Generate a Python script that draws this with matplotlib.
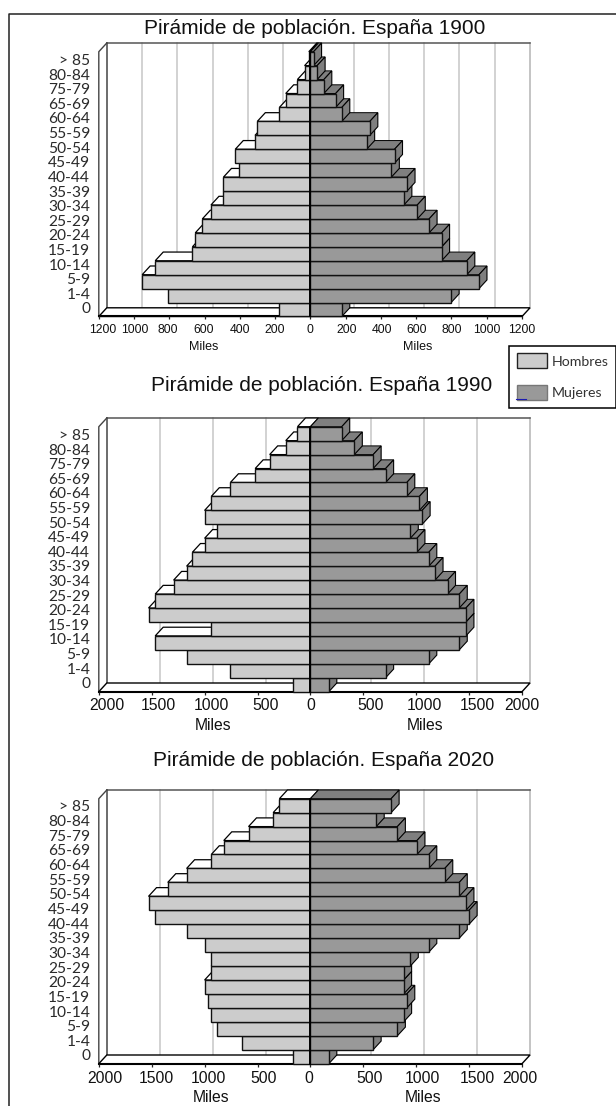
import numpy as np
import matplotlib
matplotlib.use("Agg")
import matplotlib.pyplot as plt
from matplotlib.patches import Polygon, Patch
from matplotlib.lines import Line2D

W, H = 616, 1106

age_labels = ["0", "1-4", "5-9", "10-14", "15-19", "20-24", "25-29", "30-34", "35-39",
              "40-44", "45-49", "50-54", "55-59", "60-64", "65-69", "75-79", "80-84", "> 85"]

men_1900 = [176, 809, 954, 880, 669, 653, 613, 564, 493, 493, 406, 426, 314, 301, 176, 140, 74, 33, 9]
women_1900 = [178, 798, 956, 887, 744, 744, 673, 606, 530, 548, 459, 477, 319, 337, 178, 143, 76, 38, 18]
men_1990 = [167, 756, 1167, 1467, 937, 1530, 1467, 1293, 1170, 1115, 1000, 881, 1000, 937, 756, 522, 385, 233, 122]
women_1990 = [174, 711, 1119, 1407, 1470, 1470, 1407, 1296, 1178, 1119, 1007, 944, 1056, 1030, 911, 711, 593, 415, 296]
men_2020 = [167, 648, 881, 937, 970, 1000, 937, 937, 1000, 1170, 1467, 1530, 1348, 1170, 937, 819, 585, 352, 293]
women_2020 = [174, 593, 822, 881, 911, 881, 881, 944, 1119, 1407, 1500, 1470, 1407, 1270, 1119, 1007, 822, 622, 763]

ticks_small = [1200, 1000, 800, 600, 400, 200, 0, 200, 400, 600, 800, 1000, 1200]
ticks_large = [2000, 1500, 1000, 500, 0, 500, 1000, 1500, 2000]

MALE, FEMALE, SHADE = "#cccccc", "#999999", "#7f7f7f"
DX, DY = 8.0, 8.7

panels = [
    dict(title="Pirámide de población. España 1900", men=men_1900, women=women_1900, ticks=ticks_small,
         limit=1200, floor=316.5, top=51.7, title_xy=(315, 29), miles=(204, 418, 347.5),
         lab0=308, lab1=59.5, tick_font=("Liberation Sans Narrow", 8.8), miles_size=9.0,
         shift=[3.5, 1, -2, -1, 0, 0, 0, 1, 1, 0, 0, 0, 0], tick_pad=5.5),
    dict(title="Pirámide de población. España 1990", men=men_1990, women=women_1990, ticks=ticks_large,
         limit=2000, floor=691.7, top=426.7, title_xy=(322, 385.7), miles=(213.5, 425.5, 725),
         lab0=682.7, lab1=434.5, tick_font=("Liberation Sans", 11.3), miles_size=11.3,
         shift=[8.5, 6.5, 6.5, 8, 0, 7.5, 8, 8, 0], tick_pad=4.5),
    dict(title="Pirámide de población. España 2020", men=men_2020, women=women_2020, ticks=ticks_large,
         limit=2000, floor=1063.7, top=798.7, title_xy=(324, 760.7), miles=(211, 423, 1098),
         lab0=1055, lab1=806, tick_font=("Liberation Sans", 11.3), miles_size=11.3,
         shift=[6.5, 4.5, 4, 6.5, -2, 6, 6, 8.5, -2], tick_pad=5),
]

LEFT, RIGHT = 98.8, 522.0
fig = plt.figure(figsize=(W / 100, H / 100), dpi=100, facecolor="white")


def fx(x):
    return x / W


def fy(y):
    return 1 - y / H


for p in panels:
    n = len(p["men"])
    L = p["limit"]
    ax = fig.add_axes([fx(LEFT), fy(p["floor"]), (RIGHT - LEFT) / W, (p["floor"] - p["top"]) / H])
    ax.set_xlim(-L, L)
    ax.set_ylim(0, n)
    ax.patch.set_visible(False)
    for s in ax.spines.values():
        s.set_visible(False)
    mpp = 2 * L / (RIGHT - LEFT)
    bar_px = (p["floor"] - p["top"]) / n
    dx, dy = DX * mpp, DY / bar_px

    # Box: back wall, side wall, floor
    ax.add_patch(Polygon([(-L + dx, dy), (L + dx, dy), (L + dx, n + dy), (-L + dx, n + dy)],
                         closed=True, fc="white", ec="none", zorder=0.5, clip_on=False))
    half = len(p["ticks"]) // 2
    tick_arr = np.array(p["ticks"]) * np.array([-1] * half + [0] + [1] * half)
    for t in tick_arr:
        if abs(t) != L and t != 0:
            ax.plot([t + dx, t + dx], [dy, n + dy], color="#c6c6c6", lw=1.1, zorder=1, clip_on=False)
    ax.plot([L + dx, L + dx], [dy, n + dy], color="#b4b4b4", lw=1.1, zorder=1, clip_on=False)
    ax.plot([-L + dx, L + dx], [n + dy, n + dy], color="#555555", lw=1.1, zorder=1.1, clip_on=False)
    ax.plot([-L + dx, -L + dx], [dy, n + dy], color="#444444", lw=1.1, zorder=1.1, clip_on=False)
    ax.plot([-L, -L, -L + dx], [0, n, n + dy], color="#444444", lw=1.0, zorder=1.1, clip_on=False)
    ax.add_patch(Polygon([(-L, 0), (L, 0), (L + dx, dy), (-L + dx, dy)], closed=True, fc="white",
                         ec="black", lw=1.0, zorder=1.2, clip_on=False))
    ax.plot([-L, L], [0, 0], color="black", lw=1.5, zorder=1.3, clip_on=False)

    # Bars, bottom to top so that each bar hides the faces of the one below
    for i in range(n):
        m, w = p["men"][i], p["women"][i]
        z = 2 + i * 0.01
        ax.add_patch(Polygon([(0, i + 1), (-m, i + 1), (-m + dx, i + 1 + dy), (dx, i + 1 + dy)], closed=True,
                             fc="white", ec="black", lw=0.9, zorder=z, clip_on=False))
        ax.add_patch(Polygon([(0, i + 1), (w, i + 1), (w + dx, i + 1 + dy), (dx, i + 1 + dy)], closed=True,
                             fc=SHADE, ec="black", lw=0.7, zorder=z, clip_on=False))
        ax.add_patch(Polygon([(w, i), (w + dx, i + dy), (w + dx, i + 1 + dy), (w, i + 1)], closed=True,
                             fc=SHADE, ec="black", lw=0.8, zorder=z, clip_on=False))
        ax.barh(i + 0.5, -m, height=1, color=MALE, edgecolor="#111111", lw=1.0, zorder=z + 0.001, clip_on=False)
        ax.barh(i + 0.5, w, height=1, color=FEMALE, edgecolor="#111111", lw=1.0, zorder=z + 0.001, clip_on=False)
    ax.plot([0, 0], [0, n], color="black", lw=1.4, zorder=3, clip_on=False)

    # Axis ticks and labels
    ax.xaxis.remove_overlapping_locs = False
    ax.set_xticks(tick_arr, labels=[])
    shift = np.array(p["shift"]) * mpp
    ax.set_xticks(tick_arr + shift, labels=[str(t) for t in p["ticks"]], minor=True)
    ax.tick_params(axis="x", which="major", length=2.5, width=0.9, color="#222222")
    fam, size = p["tick_font"]
    ax.tick_params(axis="x", which="minor", length=0, pad=p["tick_pad"], labelsize=size, labelcolor="#111111")
    for lab in ax.get_xticklabels(minor=True):
        lab.set_family([fam, "Liberation Sans"])

    lab_y = (p["floor"] - np.linspace(p["lab0"], p["lab1"], len(age_labels))) / bar_px
    ax.set_yticks(lab_y, labels=age_labels)
    ax.tick_params(axis="y", length=0, pad=6.2, labelsize=11.2, labelcolor="#2a2a2a")
    for lab in ax.get_yticklabels():
        lab.set_family("Lato")

    fig.text(fx(p["title_xy"][0]), fy(p["title_xy"][1]), p["title"], ha="center", va="center",
             family="Liberation Sans", fontsize=15, color="#111111")
    for mx in p["miles"][:2]:
        fig.text(fx(mx), fy(p["miles"][2]), "Miles", ha="center", va="center",
                 family=[fam, "Liberation Sans"], fontsize=p["miles_size"], color="#111111")

# Outer frame, open at right and bottom
fig.add_artist(Line2D([fx(9), fx(9), fx(616)], [fy(1106), fy(14), fy(14)], color="#222222", lw=1.1))

# Legend
handles = [Patch(fc=MALE, ec="#222222", lw=1.0), Patch(fc=FEMALE, ec="#777777", lw=1.0)]
leg = fig.legend(handles, ["Hombres", "Mujeres"], loc="upper left",
                 bbox_to_anchor=(fx(509.3), fy(345.7)), borderaxespad=0, frameon=True, fancybox=False,
                 edgecolor="black", framealpha=1, prop={"family": "Lato", "size": 10.2},
                 handlelength=2.1, handleheight=1.25, handletextpad=0.35, labelspacing=1.15, borderpad=0.55)
leg.get_frame().set_linewidth(1.1)
for t in leg.get_texts():
    t.set_color("#333333")
fig.add_artist(Line2D([fx(516), fx(526)], [fy(399.3), fy(399.3)], color="#1a1ab0", lw=0.8, zorder=10))

fig.savefig("out.png", dpi=100, facecolor="white")
